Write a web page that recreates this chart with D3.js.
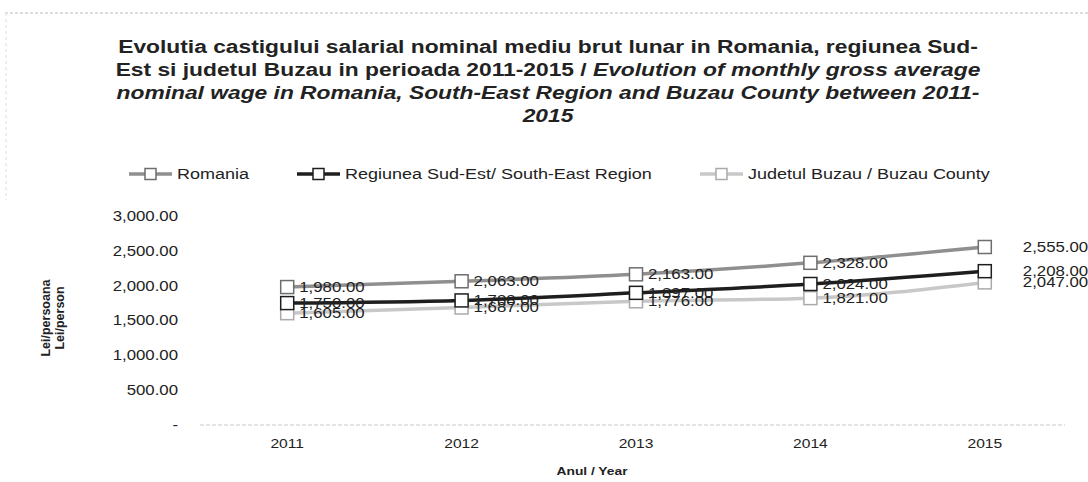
<!DOCTYPE html>
<html>
<head>
<meta charset="utf-8">
<script src="https://cdn.jsdelivr.net/npm/d3@7"></script>
<style>
  body { margin: 0; background: #fff; }
  svg { font-family: "Liberation Sans", Arial, sans-serif; }
</style>
</head>
<body>
<svg id="chart" width="1088" height="482"></svg>
<script>
var years = ["2011", "2012", "2013", "2014", "2015"];
var romania = [1980, 2063, 2163, 2328, 2555];
var sudEst = [1750, 1788, 1897, 2024, 2208];
var buzau = [1605, 1687, 1776, 1821, 2047];
var seriesNames = ["Romania", "Regiunea Sud-Est/ South-East Region", "Judetul Buzau / Buzau County"];
var yTicks = [0, 500, 1000, 1500, 2000, 2500, 3000];

var colors = ["#8f8f8f", "#1e1e1e", "#c8c8c8"];
var markerStroke = ["#6e6e6e", "#1e1e1e", "#aaaaaa"];
var series = [romania, sudEst, buzau];

// the scanned picture is a bit wider than tall, so text is stretched sideways
var SX = 1.2;
function stretch(sel) {
  sel.each(function() {
    var t = d3.select(this);
    var tx = +t.attr("x") || 0, ty = +t.attr("y") || 0;
    t.attr("transform", "translate(" + tx + "," + ty + ") scale(" + SX + ",1)")
      .attr("x", 0).attr("y", 0);
  });
}

var svg = d3.select("#chart");

// dashed frame of the scanned chart
svg.append("line").attr("x1", 5).attr("x2", 1088).attr("y1", 13).attr("y2", 13)
  .attr("stroke", "#bbb").attr("stroke-dasharray", "3,2");
svg.append("line").attr("x1", 6).attr("x2", 6).attr("y1", 13).attr("y2", 200)
  .attr("stroke", "#ddd").attr("stroke-dasharray", "3,3");

// title
var title = svg.append("g").attr("transform", "translate(548,0) scale(" + SX + ",1)")
  .append("text").attr("text-anchor", "middle")
  .attr("font-size", 19).attr("font-weight", "bold").attr("fill", "#222");
title.append("tspan").attr("x", 0).attr("y", 53)
  .text("Evolutia castigului salarial nominal mediu brut lunar in Romania, regiunea Sud-");
var l2 = title.append("tspan").attr("x", 0).attr("y", 76);
l2.append("tspan").text("Est si judetul Buzau in perioada 2011-2015 / ");
l2.append("tspan").attr("font-style", "italic").text("Evolution of monthly gross average");
title.append("tspan").attr("x", 0).attr("y", 99).attr("font-style", "italic")
  .text("nominal wage in Romania, South-East Region and Buzau County between 2011-");
title.append("tspan").attr("x", 0).attr("y", 122).attr("font-style", "italic").text("2015");

var x = d3.scaleBand().domain(years).range([200, 1072]);
var y = d3.scaleLinear().domain([0, 3000]).range([425, 216]);

// baseline
svg.append("line").attr("x1", 200).attr("x2", 1065).attr("y1", y(0)).attr("y2", y(0))
  .attr("stroke", "#c8c8c8").attr("stroke-dasharray", "4,2");

// axes
var yAxis = svg.append("g").attr("transform", "translate(181,0)")
  .call(d3.axisLeft(y).tickValues(yTicks).tickSize(0)
    .tickFormat(function(d) { return d === 0 ? "-" : d3.format(",.2f")(d); }));
yAxis.select(".domain").remove();
yAxis.selectAll("text").attr("font-size", 14).attr("fill", "#222")
  .attr("font-family", "Liberation Sans, Arial, sans-serif").call(stretch);

var xAxis = svg.append("g").attr("transform", "translate(0,436)")
  .call(d3.axisBottom(x).tickSize(0));
xAxis.select(".domain").remove();
xAxis.selectAll("text").attr("font-size", 13).attr("fill", "#222")
  .attr("font-family", "Liberation Sans, Arial, sans-serif").call(stretch);

svg.append("text").attr("x", 592).attr("y", 475).attr("text-anchor", "middle")
  .attr("font-size", 11.5).attr("font-weight", "bold").attr("fill", "#222").text("Anul / Year")
  .call(stretch);

var yt = svg.append("text").attr("transform", "translate(50,318) rotate(-90)")
  .attr("text-anchor", "middle").attr("font-size", 12.5).attr("font-weight", "bold").attr("fill", "#222");
yt.append("tspan").attr("x", 0).attr("y", 0).text("Lei/persoana");
yt.append("tspan").attr("x", 0).attr("y", 14).text("Lei/person");

// lines, markers, labels
var line = d3.line()
  .x(function(d, i) { return x(years[i]) + x.bandwidth() / 2; })
  .y(function(d) { return y(d); })
  .curve(d3.curveMonotoneX);

var drawOrder = [2, 1, 0];
drawOrder.forEach(function(s) {
  var g = svg.append("g");
  g.append("path").datum(series[s]).attr("d", line)
    .attr("fill", "none").attr("stroke", colors[s]).attr("stroke-width", 3.5);
  g.selectAll("rect").data(series[s]).enter().append("rect")
    .attr("x", function(d, i) { return x(years[i]) + x.bandwidth() / 2 - 6.5; })
    .attr("y", function(d) { return y(d) - 6.5; })
    .attr("width", 13).attr("height", 13)
    .attr("fill", "#fff").attr("stroke", markerStroke[s])
    .attr("stroke-width", 1.5);
});

drawOrder.forEach(function(s) {
  svg.append("g").selectAll("text").data(series[s]).enter().append("text")
    .attr("x", function(d, i) { return x(years[i]) + x.bandwidth() / 2 + (i === 4 ? 38 : 12); })
    .attr("y", function(d) { return y(d) + 5; })
    .attr("font-size", 14).attr("fill", "#222")
    .text(function(d) { return d3.format(",.2f")(d); })
    .call(stretch);
});

// legend
var legendX = [129, 297, 700];
seriesNames.forEach(function(n, s) {
  var g = svg.append("g").attr("transform", "translate(" + legendX[s] + ",174)");
  g.append("line").attr("x1", 0).attr("x2", 43).attr("y1", 0).attr("y2", 0)
    .attr("stroke", colors[s]).attr("stroke-width", 3.5);
  g.append("rect").attr("x", 16).attr("y", -5.5).attr("width", 11).attr("height", 11)
    .attr("fill", "#fff").attr("stroke", markerStroke[s]).attr("stroke-width", 1.5);
  g.append("text").attr("x", 48).attr("y", 5).attr("font-size", 15).attr("fill", "#222").text(n)
    .call(stretch);
});
</script>
</body>
</html>
